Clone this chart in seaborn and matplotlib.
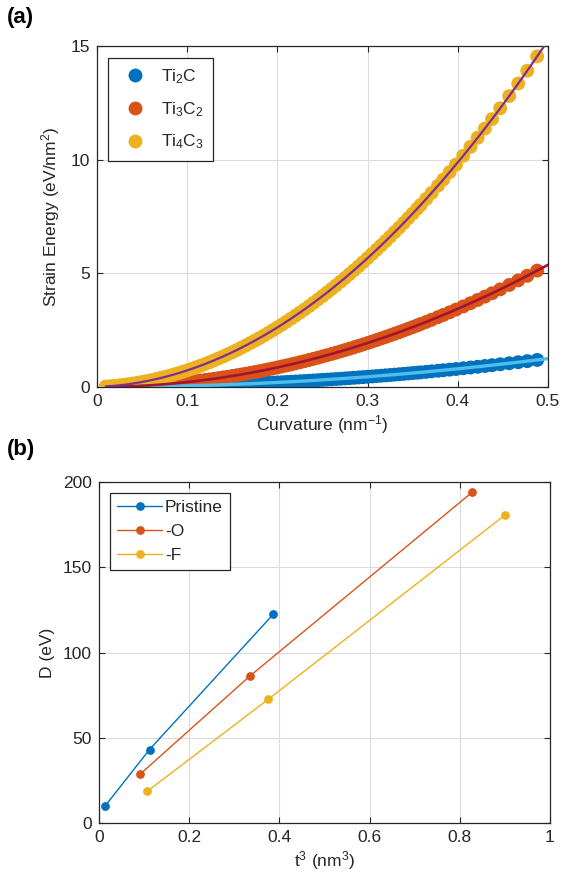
import numpy as np
import pandas as pd
import matplotlib
matplotlib.use("Agg")
import matplotlib.pyplot as plt
import seaborn as sns

# ---- panel (a): strain energy vs curvature ----
curvature = [0.010, 0.015, 0.020, 0.025, 0.030, 0.035, 0.040, 0.045, 0.050, 0.055,
             0.060, 0.065, 0.070, 0.075, 0.080, 0.085, 0.090, 0.095, 0.100, 0.105,
             0.110, 0.115, 0.120, 0.125, 0.130, 0.135, 0.140, 0.145, 0.150, 0.155,
             0.160, 0.165, 0.170, 0.175, 0.180, 0.185, 0.190, 0.195, 0.200, 0.205,
             0.210, 0.215, 0.220, 0.225, 0.230, 0.235, 0.240, 0.245, 0.250, 0.255,
             0.260, 0.265, 0.270, 0.275, 0.280, 0.285, 0.290, 0.295, 0.300, 0.305,
             0.310, 0.315, 0.320, 0.325, 0.330, 0.335, 0.340, 0.345, 0.350, 0.355,
             0.359, 0.365, 0.371, 0.378, 0.384, 0.391, 0.398, 0.406, 0.414, 0.422,
             0.430, 0.438, 0.447, 0.457, 0.467, 0.477, 0.488]

energy_ti2c = [0.0005, 0.0011, 0.0020, 0.0031, 0.0045, 0.0061, 0.0080, 0.0101, 0.0125, 0.0151,
               0.0180, 0.0211, 0.0245, 0.0281, 0.0320, 0.0361, 0.0405, 0.0451, 0.0500, 0.0551,
               0.0605, 0.0661, 0.0720, 0.0781, 0.0845, 0.0911, 0.0980, 0.1051, 0.1125, 0.1201,
               0.1280, 0.1361, 0.1445, 0.1531, 0.1620, 0.1711, 0.1805, 0.1901, 0.2000, 0.2101,
               0.2205, 0.2311, 0.2420, 0.2531, 0.2645, 0.2761, 0.2880, 0.3001, 0.3125, 0.3251,
               0.3380, 0.3511, 0.3645, 0.3781, 0.3920, 0.4061, 0.4205, 0.4351, 0.4500, 0.4651,
               0.4805, 0.4961, 0.5120, 0.5281, 0.5445, 0.5611, 0.5780, 0.5951, 0.6125, 0.6301,
               0.6444, 0.6661, 0.6882, 0.7144, 0.7373, 0.7644, 0.7920, 0.8242, 0.8570, 0.8904,
               0.9245, 0.9592, 0.9990, 1.0442, 1.0904, 1.1376, 1.1907]

energy_ti3c2 = [0.0022, 0.0048, 0.0086, 0.0134, 0.0194, 0.0263, 0.0344, 0.0435, 0.0538, 0.0650,
                0.0774, 0.0908, 0.1054, 0.1209, 0.1376, 0.1553, 0.1742, 0.1940, 0.2150, 0.2370,
                0.2602, 0.2843, 0.3096, 0.3359, 0.3634, 0.3918, 0.4214, 0.4520, 0.4838, 0.5165,
                0.5504, 0.5853, 0.6214, 0.6584, 0.6966, 0.7358, 0.7762, 0.8175, 0.8600, 0.9035,
                0.9482, 0.9938, 1.0406, 1.0884, 1.1374, 1.1873, 1.2384, 1.2905, 1.3438, 1.3980,
                1.4534, 1.5098, 1.5674, 1.6259, 1.6856, 1.7463, 1.8082, 1.8710, 1.9350, 2.0000,
                2.0662, 2.1333, 2.2016, 2.2709, 2.3414, 2.4128, 2.4854, 2.5590, 2.6338, 2.7095,
                2.7709, 2.8643, 2.9593, 3.0720, 3.1703, 3.2869, 3.4057, 3.5440, 3.6850, 3.8288,
                3.9754, 4.1246, 4.2959, 4.4903, 4.6889, 4.8919, 5.1201]

energy_ti4c3 = [0.0208, 0.0356, 0.0532, 0.0738, 0.0972, 0.1236, 0.1528, 0.1850, 0.2200, 0.2580,
                0.2988, 0.3426, 0.3892, 0.4388, 0.4912, 0.5466, 0.6048, 0.6660, 0.7300, 0.7970,
                0.8668, 0.9396, 1.0152, 1.0938, 1.1752, 1.2596, 1.3468, 1.4370, 1.5300, 1.6260,
                1.7248, 1.8266, 1.9312, 2.0388, 2.1492, 2.2626, 2.3788, 2.4980, 2.6200, 2.7450,
                2.8728, 3.0036, 3.1372, 3.2738, 3.4132, 3.5556, 3.7008, 3.8490, 4.0000, 4.1540,
                4.3108, 4.4706, 4.6332, 4.7988, 4.9672, 5.1386, 5.3128, 5.4900, 5.6700, 5.8530,
                6.0388, 6.2276, 6.4192, 6.6138, 6.8112, 7.0116, 7.2148, 7.4210, 7.6300, 7.8420,
                8.0136, 8.2746, 8.5397, 8.8543, 9.1284, 9.4536, 9.7844, 10.1695, 10.5620, 10.9619,
                11.3692, 11.7840, 12.2594, 12.7987, 13.3497, 13.9122, 14.5444]

materials = ["Ti$_2$C", "Ti$_3$C$_2$", "Ti$_4$C$_3$"]

# ---- panel (b): bending rigidity vs thickness cubed ----
t3_pristine = [0.013, 0.112, 0.386]
D_pristine = [9.8, 43.1, 122.3]
t3_O = [0.091, 0.335, 0.827]
D_O = [28.6, 86.3, 193.9]
t3_F = [0.107, 0.375, 0.901]
D_F = [18.6, 72.5, 180.8]
terminations = ["Pristine", "-O", "-F"]

# MATLAB default colour order
c_blue, c_red, c_yellow = "#0072BD", "#D95319", "#EDB120"
fit_colors = ["#4DBEEE", "#A2142F", "#7E2F8E"]

sns.set_theme(style="ticks")
plt.rcParams["font.family"] = ["Liberation Sans", "DejaVu Sans"]
plt.rcParams["mathtext.fontset"] = "custom"
plt.rcParams["mathtext.rm"] = "Liberation Sans"
plt.rcParams["mathtext.it"] = "Liberation Sans:italic"

axis_col = "#262626"
fs = 12.5

fig = plt.figure(figsize=(5.62, 8.88), dpi=100)
ax1 = fig.add_axes([97 / 562, 1 - 387 / 888, 451 / 562, 341 / 888])
ax2 = fig.add_axes([99 / 562, 1 - 823 / 888, 451 / 562, 341 / 888])


def style_axes(ax):
    ax.grid(True, color="#dcdcdc", linewidth=0.8)
    ax.set_axisbelow(True)
    for s in ax.spines.values():
        s.set_color(axis_col)
        s.set_linewidth(0.9)
    ax.tick_params(direction="in", top=True, right=True, length=4, width=0.8,
                   colors=axis_col, labelsize=fs, labelcolor="#262626", pad=5)


df_a = pd.DataFrame({
    "curvature": curvature * 3,
    "energy": energy_ti2c + energy_ti3c2 + energy_ti4c3,
    "material": sum([[m] * len(curvature) for m in materials], []),
})

sns.scatterplot(data=df_a, x="curvature", y="energy", hue="material",
                palette=[c_blue, c_red, c_yellow], s=100, linewidth=0,
                alpha=1.0, ax=ax1, zorder=3)

# quadratic fits of each series
k_fine = np.linspace(0.01, 0.5, 200)
for vals, col, lw in zip([energy_ti2c, energy_ti3c2, energy_ti4c3], fit_colors,
                         [2.4, 1.9, 1.6]):
    coeffs = np.polyfit(curvature, vals, 2)
    sns.lineplot(x=k_fine, y=np.polyval(coeffs, k_fine), color=col,
                 linewidth=lw, ax=ax1, zorder=4, legend=False)

ax1.set_xlim(0, 0.5)
ax1.set_ylim(0, 15)
ax1.set_xticks([0, 0.1, 0.2, 0.3, 0.4, 0.5])
ax1.set_xticklabels(["0", "0.1", "0.2", "0.3", "0.4", "0.5"])
ax1.set_yticks([0, 5, 10, 15])
ax1.set_xlabel("Curvature (nm$^{-1}$)", fontsize=fs, color="#262626", labelpad=3)
ax1.set_ylabel("Strain Energy (eV/nm$^{2}$)", fontsize=fs, color="#262626", labelpad=6)
style_axes(ax1)

h, l = ax1.get_legend_handles_labels()
leg1 = ax1.legend(h[:3], l[:3], loc="upper left", bbox_to_anchor=(0.024, 0.965),
                  borderaxespad=0, fontsize=fs, frameon=True, fancybox=False,
                  edgecolor=axis_col, framealpha=1, borderpad=0.55,
                  labelspacing=0.8, handletextpad=0.5, markerscale=1.0)
leg1.get_frame().set_linewidth(0.9)

df_b = pd.DataFrame({
    "t3": t3_pristine + t3_O + t3_F,
    "D": D_pristine + D_O + D_F,
    "termination": ["Pristine"] * 3 + ["-O"] * 3 + ["-F"] * 3,
})

sns.lineplot(data=df_b, x="t3", y="D", hue="termination", hue_order=terminations,
             palette=[c_blue, c_red, c_yellow], marker="o", markersize=6.3,
             markeredgewidth=0, linewidth=1.0, sort=False, estimator=None,
             ax=ax2, zorder=3)

ax2.set_xlim(0, 1)
ax2.set_ylim(0, 200)
ax2.set_xticks([0, 0.2, 0.4, 0.6, 0.8, 1.0])
ax2.set_xticklabels(["0", "0.2", "0.4", "0.6", "0.8", "1"])
ax2.set_yticks([0, 50, 100, 150, 200])
ax2.set_xlabel("t$^{3}$ (nm$^{3}$)", fontsize=fs, color="#262626", labelpad=3)
ax2.set_ylabel("D (eV)", fontsize=fs, color="#262626", labelpad=6)
style_axes(ax2)

leg2 = ax2.legend(loc="upper left", bbox_to_anchor=(0.025, 0.968), borderaxespad=0,
                  fontsize=fs, frameon=True, fancybox=False, edgecolor=axis_col,
                  framealpha=1, borderpad=0.4, labelspacing=0.5, handlelength=2.6,
                  handletextpad=0.15, title=None)
leg2.get_frame().set_linewidth(0.9)

fig.text(7 / 562, 1 - 7 / 888, "(a)", fontsize=16, fontweight="bold",
         va="top", ha="left", color="black")
fig.text(7 / 562, 1 - 439 / 888, "(b)", fontsize=16, fontweight="bold",
         va="top", ha="left", color="black")

fig.savefig("out.png", dpi=100)
